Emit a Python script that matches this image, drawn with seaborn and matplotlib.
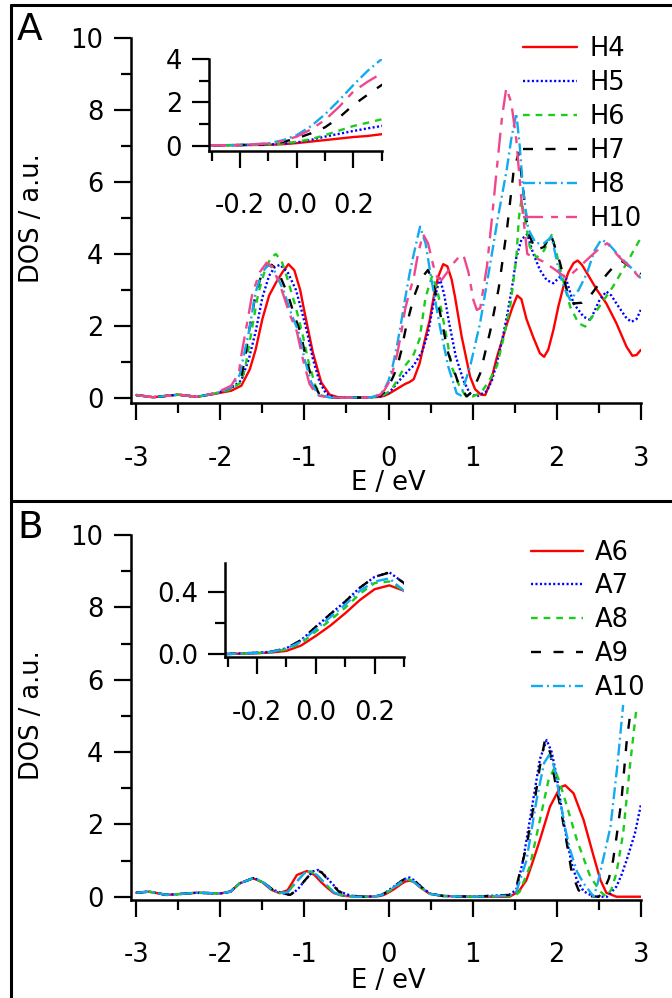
import matplotlib
matplotlib.use("Agg")
import matplotlib.pyplot as plt
import seaborn as sns
import pandas as pd
from matplotlib.lines import Line2D
from matplotlib.ticker import FixedLocator, FormatStrFormatter

# ---- panel A: DOS of the H-series (E / eV, DOS / a.u.) ----
h4 = [(-3.0, 0.09), (-2.8, 0.03), (-2.5, 0.10), (-2.28, 0.04), (-2.05, 0.13), (-1.87, 0.21),
      (-1.75, 0.35), (-1.65, 0.8), (-1.58, 1.35), (-1.5, 2.2), (-1.42, 2.85), (-1.34, 3.2),
      (-1.26, 3.5), (-1.19, 3.72), (-1.12, 3.55), (-1.05, 3.0), (-1.0, 2.4), (-0.9, 1.27),
      (-0.8, 0.44), (-0.7, 0.1), (-0.6, 0.03), (-0.4, 0.02), (-0.3, 0.02), (-0.2, 0.03),
      (-0.1, 0.04), (-0.05, 0.07), (0.0, 0.12), (0.05, 0.19), (0.1, 0.26), (0.15, 0.33),
      (0.2, 0.40), (0.25, 0.45), (0.3, 0.53), (0.37, 0.97), (0.43, 1.6), (0.49, 2.17),
      (0.54, 2.85), (0.59, 3.37), (0.65, 3.72), (0.70, 3.66), (0.75, 3.3), (0.79, 2.82),
      (0.87, 1.71), (0.97, 0.6), (1.03, 0.25), (1.1, 0.1), (1.15, 0.09), (1.22, 0.5),
      (1.29, 1.15), (1.35, 1.6), (1.41, 2.08), (1.47, 2.5), (1.53, 2.85), (1.58, 2.75),
      (1.64, 2.2), (1.72, 1.7), (1.80, 1.25), (1.85, 1.15), (1.9, 1.35), (1.96, 1.89),
      (2.02, 2.55), (2.08, 3.1), (2.14, 3.5), (2.2, 3.75), (2.25, 3.82), (2.3, 3.7),
      (2.36, 3.47), (2.48, 3.0), (2.59, 2.63), (2.71, 2.08), (2.83, 1.43), (2.9, 1.18),
      (2.95, 1.2), (3.0, 1.34)]
h5 = [(-3.0, 0.09), (-2.8, 0.03), (-2.5, 0.10), (-2.28, 0.04), (-2.05, 0.14), (-1.87, 0.28),
      (-1.75, 0.5), (-1.66, 1.1), (-1.58, 1.85), (-1.5, 2.8), (-1.42, 3.4), (-1.35, 3.65),
      (-1.29, 3.7), (-1.2, 3.5), (-1.1, 3.0), (-1.03, 2.4), (-0.97, 1.85), (-0.9, 1.1),
      (-0.82, 0.45), (-0.74, 0.12), (-0.65, 0.03), (-0.4, 0.02), (-0.3, 0.02), (-0.2, 0.03),
      (-0.1, 0.05), (-0.05, 0.09), (0.0, 0.15), (0.05, 0.27), (0.1, 0.42), (0.15, 0.55),
      (0.2, 0.68), (0.25, 0.8), (0.3, 0.91), (0.4, 1.3), (0.47, 1.8), (0.54, 2.7),
      (0.61, 3.33), (0.66, 2.9), (0.72, 2.1), (0.80, 1.16), (0.89, 0.5), (0.97, 0.12),
      (1.05, 0.05), (1.17, 0.2), (1.23, 0.5), (1.29, 1.0), (1.35, 1.6), (1.41, 2.3),
      (1.47, 3.1), (1.52, 3.9), (1.58, 4.4), (1.65, 4.55), (1.72, 4.02), (1.80, 3.56),
      (1.88, 3.28), (1.96, 3.19), (2.04, 3.37), (2.1, 3.4), (2.2, 2.63), (2.32, 2.26),
      (2.40, 2.17), (2.51, 2.73), (2.59, 2.96), (2.65, 2.85), (2.71, 2.63), (2.83, 2.22),
      (2.89, 2.12), (2.95, 2.2), (3.0, 2.45)]
h6 = [(-3.0, 0.09), (-2.8, 0.03), (-2.5, 0.10), (-2.28, 0.04), (-2.05, 0.14), (-1.87, 0.25),
      (-1.75, 0.45), (-1.7, 0.9), (-1.63, 1.85), (-1.55, 2.9), (-1.47, 3.55), (-1.4, 3.9),
      (-1.34, 4.0), (-1.27, 3.8), (-1.2, 3.3), (-1.1, 2.5), (-1.03, 1.85), (-0.95, 1.0),
      (-0.87, 0.35), (-0.8, 0.08), (-0.7, 0.02), (-0.4, 0.02), (-0.3, 0.02), (-0.2, 0.03),
      (-0.1, 0.05), (-0.05, 0.1), (0.0, 0.18), (0.05, 0.3), (0.1, 0.49), (0.15, 0.7),
      (0.2, 0.91), (0.25, 1.06), (0.3, 1.22), (0.37, 1.65), (0.44, 2.8), (0.52, 3.4),
      (0.58, 3.0), (0.64, 2.3), (0.69, 1.7), (0.75, 0.88), (0.85, 0.3), (0.92, 0.06),
      (1.0, 0.05), (1.1, 0.15), (1.2, 0.5), (1.29, 0.9), (1.37, 1.7), (1.45, 2.6),
      (1.52, 3.9), (1.55, 5.0), (1.58, 5.5), (1.62, 5.0), (1.68, 4.2), (1.76, 3.9),
      (1.85, 4.1), (1.94, 4.53), (2.0, 4.0), (2.05, 3.5), (2.16, 2.54), (2.26, 2.08),
      (2.34, 1.99), (2.48, 2.45), (2.67, 3.1), (2.83, 3.74), (3.0, 4.45)]
h7 = [(-3.0, 0.09), (-2.8, 0.03), (-2.5, 0.10), (-2.28, 0.04), (-2.05, 0.14), (-1.87, 0.3),
      (-1.75, 0.6), (-1.7, 1.2), (-1.66, 1.85), (-1.58, 2.9), (-1.5, 3.5), (-1.44, 3.68),
      (-1.39, 3.7), (-1.32, 3.55), (-1.2, 2.9), (-1.12, 2.3), (-1.05, 1.85), (-0.98, 1.1),
      (-0.9, 0.45), (-0.82, 0.1), (-0.7, 0.02), (-0.4, 0.02), (-0.3, 0.02), (-0.2, 0.03),
      (-0.1, 0.08), (-0.05, 0.17), (0.0, 0.34), (0.05, 0.57), (0.1, 0.85), (0.15, 1.3),
      (0.2, 1.88), (0.25, 2.35), (0.3, 2.8), (0.38, 3.3), (0.47, 3.56), (0.53, 3.2),
      (0.61, 2.4), (0.71, 1.25), (0.83, 0.42), (0.93, 0.05), (1.0, 0.2), (1.09, 0.69),
      (1.21, 1.87), (1.31, 3.05), (1.41, 4.72), (1.49, 6.35), (1.55, 6.8), (1.6, 5.8),
      (1.66, 4.6), (1.75, 4.1), (1.85, 4.2), (1.93, 4.55), (2.04, 3.75), (2.12, 3.0),
      (2.2, 2.63), (2.3, 2.65), (2.4, 2.85), (2.48, 3.1), (2.6, 3.45), (2.71, 3.74),
      (2.78, 3.8), (2.87, 3.65), (3.0, 3.45)]
h8 = [(-3.0, 0.09), (-2.8, 0.03), (-2.5, 0.10), (-2.28, 0.04), (-2.05, 0.14), (-1.87, 0.3),
      (-1.77, 0.65), (-1.72, 1.2), (-1.66, 1.85), (-1.58, 2.95), (-1.5, 3.5), (-1.43, 3.7),
      (-1.37, 3.6), (-1.25, 3.0), (-1.15, 2.3), (-1.07, 1.85), (-1.0, 1.1), (-0.92, 0.45),
      (-0.84, 0.1), (-0.7, 0.02), (-0.4, 0.02), (-0.3, 0.02), (-0.2, 0.03), (-0.1, 0.11),
      (-0.05, 0.25), (0.0, 0.49), (0.05, 0.9), (0.1, 1.45), (0.15, 2.1), (0.2, 2.8),
      (0.25, 3.45), (0.3, 4.0), (0.375, 4.76), (0.44, 4.3), (0.51, 3.3), (0.61, 2.0),
      (0.71, 0.88), (0.81, 0.14), (0.86, 0.08), (0.97, 0.88), (1.09, 2.1), (1.2, 3.6),
      (1.3, 5.0), (1.405, 6.33), (1.46, 7.2), (1.52, 7.9), (1.56, 7.0), (1.6, 5.8),
      (1.66, 4.7), (1.75, 4.3), (1.85, 4.3), (1.94, 4.48), (2.02, 3.6), (2.08, 3.1),
      (2.16, 2.73), (2.26, 3.0), (2.36, 3.47), (2.45, 4.1), (2.53, 4.4), (2.61, 4.3),
      (2.75, 3.93), (2.91, 3.56), (3.0, 3.33)]
h10 = [(-3.0, 0.09), (-2.8, 0.03), (-2.5, 0.10), (-2.28, 0.04), (-2.05, 0.15), (-1.87, 0.35),
       (-1.78, 0.7), (-1.75, 1.2), (-1.70, 1.85), (-1.62, 2.9), (-1.53, 3.5), (-1.45, 3.76),
       (-1.38, 3.65), (-1.27, 3.0), (-1.17, 2.3), (-1.09, 1.85), (-1.02, 1.1), (-0.94, 0.4),
       (-0.85, 0.08), (-0.7, 0.02), (-0.4, 0.02), (-0.3, 0.02), (-0.2, 0.03), (-0.1, 0.1),
       (-0.05, 0.22), (0.0, 0.42), (0.05, 0.75), (0.1, 1.19), (0.15, 1.8), (0.2, 2.5),
       (0.25, 2.95), (0.3, 3.34), (0.35, 4.0), (0.41, 4.55), (0.47, 4.3), (0.53, 3.7),
       (0.58, 3.35), (0.63, 3.28), (0.7, 3.5), (0.77, 3.74), (0.83, 3.9), (0.89, 3.98),
       (0.95, 3.5), (1.01, 2.72), (1.05, 2.45), (1.09, 2.5), (1.17, 3.65), (1.23, 5.0),
       (1.29, 6.42), (1.35, 7.8), (1.40, 8.6), (1.46, 8.2), (1.52, 7.16), (1.58, 5.5),
       (1.65, 4.0), (1.72, 3.93), (1.84, 3.79), (1.96, 3.6), (2.12, 3.33), (2.25, 3.6),
       (2.4, 3.93), (2.53, 4.2), (2.6, 4.3), (2.75, 3.9), (2.91, 3.55), (3.0, 3.3)]

# ---- panel B: DOS of the A-series ----
a6 = [(-3.0, 0.11), (-2.85, 0.14), (-2.64, 0.05), (-2.45, 0.08), (-2.28, 0.11), (-2.0, 0.09),
      (-1.88, 0.14), (-1.77, 0.37), (-1.61, 0.51), (-1.5, 0.4), (-1.4, 0.2), (-1.3, 0.1),
      (-1.2, 0.18), (-1.09, 0.6), (-0.97, 0.71), (-0.88, 0.6), (-0.8, 0.4), (-0.73, 0.25),
      (-0.65, 0.1), (-0.55, 0.03), (-0.4, 0.0), (-0.3, 0.0), (-0.25, 0.003), (-0.2, 0.005),
      (-0.15, 0.01), (-0.1, 0.02), (-0.05, 0.055), (0.0, 0.117), (0.05, 0.185), (0.1, 0.264),
      (0.15, 0.35), (0.2, 0.42), (0.25, 0.445), (0.3, 0.41), (0.375, 0.26), (0.49, 0.08),
      (0.65, 0.02), (1.0, 0.0), (1.44, 0.0), (1.55, 0.15), (1.64, 0.46), (1.72, 1.0),
      (1.80, 1.57), (1.92, 2.49), (2.04, 3.02), (2.1, 3.08), (2.2, 2.86), (2.32, 2.12),
      (2.44, 1.11), (2.52, 0.46), (2.59, 0.11), (2.71, 0.0), (3.0, 0.0)]
a7 = [(-3.0, 0.11), (-2.85, 0.14), (-2.64, 0.05), (-2.45, 0.08), (-2.28, 0.11), (-2.0, 0.09),
      (-1.88, 0.14), (-1.77, 0.37), (-1.6, 0.52), (-1.48, 0.38), (-1.38, 0.2), (-1.27, 0.1),
      (-1.17, 0.05), (-1.08, 0.2), (-1.01, 0.41), (-0.9, 0.7), (-0.84, 0.74), (-0.78, 0.65),
      (-0.69, 0.41), (-0.58, 0.14), (-0.45, 0.03), (-0.3, 0.0), (-0.25, 0.004), (-0.2, 0.008),
      (-0.15, 0.015), (-0.1, 0.037), (-0.05, 0.09), (0.0, 0.175), (0.05, 0.26), (0.1, 0.34),
      (0.15, 0.43), (0.2, 0.5), (0.25, 0.53), (0.3, 0.46), (0.4, 0.25), (0.5, 0.08),
      (0.65, 0.02), (1.0, 0.0), (1.44, 0.05), (1.52, 0.2), (1.6, 1.0), (1.72, 2.67),
      (1.8, 3.8), (1.88, 4.33), (1.94, 4.0), (2.0, 3.32), (2.06, 2.4), (2.12, 1.57),
      (2.18, 0.9), (2.24, 0.46), (2.32, 0.15), (2.40, 0.05), (2.46, 0.0), (2.6, 0.0),
      (2.71, 0.28), (2.77, 0.6), (2.83, 1.0), (2.93, 1.75), (3.0, 2.53)]
a8 = [(-3.0, 0.11), (-2.85, 0.14), (-2.64, 0.05), (-2.45, 0.08), (-2.28, 0.11), (-2.0, 0.09),
      (-1.88, 0.14), (-1.77, 0.37), (-1.6, 0.52), (-1.48, 0.38), (-1.38, 0.18), (-1.3, 0.1),
      (-1.2, 0.12), (-1.1, 0.4), (-1.0, 0.65), (-0.93, 0.7), (-0.85, 0.6), (-0.75, 0.35),
      (-0.65, 0.12), (-0.55, 0.03), (-0.4, 0.0), (-0.3, 0.0), (-0.25, 0.003), (-0.2, 0.006),
      (-0.15, 0.012), (-0.1, 0.03), (-0.05, 0.07), (0.0, 0.145), (0.05, 0.22), (0.1, 0.30),
      (0.15, 0.39), (0.2, 0.46), (0.25, 0.47), (0.3, 0.41), (0.375, 0.27), (0.49, 0.08),
      (0.65, 0.02), (1.0, 0.0), (1.5, 0.02), (1.56, 0.14), (1.68, 0.83), (1.80, 2.12),
      (1.9, 3.2), (1.97, 3.55), (2.03, 3.2), (2.10, 2.67), (2.24, 1.57), (2.40, 0.55),
      (2.52, 0.14), (2.59, 0.0), (2.65, 0.2), (2.71, 0.65), (2.79, 1.75), (2.87, 3.6),
      (2.95, 5.25)]
a9 = [(-3.0, 0.11), (-2.85, 0.14), (-2.64, 0.05), (-2.45, 0.08), (-2.28, 0.11), (-2.0, 0.09),
      (-1.88, 0.14), (-1.77, 0.37), (-1.6, 0.52), (-1.48, 0.38), (-1.38, 0.2), (-1.27, 0.1),
      (-1.17, 0.05), (-1.08, 0.2), (-1.01, 0.41), (-0.91, 0.68), (-0.85, 0.74), (-0.79, 0.66),
      (-0.7, 0.41), (-0.59, 0.14), (-0.45, 0.03), (-0.3, 0.0), (-0.25, 0.004), (-0.2, 0.008),
      (-0.15, 0.015), (-0.1, 0.037), (-0.05, 0.09), (0.0, 0.177), (0.05, 0.26), (0.1, 0.34),
      (0.15, 0.43), (0.2, 0.5), (0.25, 0.528), (0.3, 0.46), (0.4, 0.25), (0.5, 0.08),
      (0.65, 0.02), (1.0, 0.0), (1.44, 0.05), (1.52, 0.28), (1.64, 1.38), (1.74, 2.67),
      (1.8, 3.6), (1.86, 4.33), (1.92, 4.0), (1.98, 3.2), (2.05, 2.4), (2.12, 1.48),
      (2.18, 0.65), (2.26, 0.18), (2.36, 0.02), (2.5, 0.0), (2.56, 0.18), (2.62, 0.5),
      (2.67, 1.0), (2.72, 1.8), (2.77, 2.67), (2.83, 4.24), (2.88, 5.16)]
a10 = [(-3.0, 0.11), (-2.85, 0.14), (-2.64, 0.05), (-2.45, 0.08), (-2.28, 0.11), (-2.0, 0.09),
       (-1.88, 0.14), (-1.77, 0.37), (-1.6, 0.52), (-1.48, 0.38), (-1.38, 0.18), (-1.3, 0.1),
       (-1.2, 0.12), (-1.1, 0.4), (-1.0, 0.65), (-0.93, 0.7), (-0.85, 0.6), (-0.75, 0.35),
       (-0.65, 0.12), (-0.55, 0.03), (-0.4, 0.0), (-0.3, 0.0), (-0.25, 0.003), (-0.2, 0.007),
       (-0.15, 0.014), (-0.1, 0.035), (-0.05, 0.08), (0.0, 0.16), (0.05, 0.24), (0.1, 0.32),
       (0.15, 0.41), (0.2, 0.47), (0.25, 0.49), (0.3, 0.41), (0.375, 0.27), (0.49, 0.08),
       (0.65, 0.02), (1.0, 0.0), (1.44, 0.03), (1.52, 0.14), (1.64, 1.0), (1.76, 2.67),
       (1.85, 3.7), (1.92, 3.95), (1.98, 3.5), (2.04, 2.67), (2.10, 1.9), (2.16, 1.29),
       (2.24, 0.7), (2.32, 0.37), (2.44, 0.0), (2.49, 0.4), (2.56, 1.11), (2.64, 1.94),
       (2.72, 3.6), (2.79, 5.3)]

series_a = {"H4": h4, "H5": h5, "H6": h6, "H7": h7, "H8": h8, "H10": h10}
series_b = {"A6": a6, "A7": a7, "A8": a8, "A9": a9, "A10": a10}

colors = {"H4": "#ff0000", "H5": "#0000ff", "H6": "#1ccc1c", "H7": "#000000",
          "H8": "#12aaf0", "H10": "#f0478c",
          "A6": "#ff0000", "A7": "#0000ff", "A8": "#1ccc1c", "A9": "#000000", "A10": "#12aaf0"}
# dash patterns in points (scale_dashes off)
dash_styles = {"H4": "", "H5": (1.5, 1.7), "H6": (4.8, 4.3), "H7": (7.2, 9.0),
               "H8": (8.6, 2.9, 1.4, 2.9), "H10": (14.4, 5.8, 5.0, 5.8),
               "A6": "", "A7": (1.5, 1.7), "A8": (4.8, 4.3), "A9": (7.2, 9.0),
               "A10": (8.6, 2.9, 1.4, 2.9)}


def to_frame(series):
    rows = []
    for name, pts in series.items():
        for e, d in pts:
            rows.append({"E": e, "DOS": d, "series": name})
    return pd.DataFrame(rows)


df_a = to_frame(series_a)
df_b = to_frame(series_b)

sns.set_style("ticks")
plt.rcParams["font.family"] = ["DejaVu Sans"]
plt.rcParams["axes.unicode_minus"] = False
plt.rcParams["lines.scale_dashes"] = False
for key in ["text.color", "axes.labelcolor", "xtick.color", "ytick.color",
            "xtick.labelcolor", "ytick.labelcolor", "axes.edgecolor"]:
    plt.rcParams[key] = "black"

FS = 18.5
W, H = 672.0, 998.0


def rect(l, t, r, b):
    return [l / W, 1 - b / H, (r - l) / W, (b - t) / H]


def style_axes(ax):
    ax.set_facecolor("none")
    for s in ["top", "right"]:
        ax.spines[s].set_visible(False)
    for s in ["left", "bottom"]:
        ax.spines[s].set_linewidth(1.8)
        ax.spines[s].set_color("black")
    ax.tick_params(which="major", direction="out", length=12.5, width=1.6,
                   labelsize=FS, color="black", labelcolor="black")
    ax.tick_params(which="minor", direction="out", length=7, width=1.6, color="black")
    ax.tick_params(axis="y", which="both", pad=7)
    ax.tick_params(axis="x", which="both", pad=18)
    ax.set_xlabel("")
    ax.set_ylabel("")


def draw(ax, df, order, legend=False):
    sns.lineplot(data=df, x="E", y="DOS", hue="series", style="series",
                 hue_order=order, style_order=order,
                 palette=colors, dashes=dash_styles, estimator=None, sort=False,
                 linewidth=1.7, legend=legend, ax=ax)


fig = plt.figure(figsize=(W / 100, H / 100), dpi=100)

panels = [
    dict(main=rect(130.7, 37.7, 640.8, 403.3), mylim=(-0.139, 10),
         ins=rect(209.3, 59.0, 381.7, 150.7), iylim=(-0.23, 4.0),
         iy_major=[0, 2, 4], iy_minor=[1, 3], iy_fmt="%d",
         df=df_a, order=list(series_a), letter="A", dy=0.0,
         leg_left=523, leg_top=36.0, hlen=2.11),
    dict(main=rect(130.7, 535.0, 640.8, 900.0), mylim=(-0.091, 10),
         ins=rect(225.0, 562.7, 404.0, 657.3), iylim=(-0.0214, 0.592),
         iy_major=[0.0, 0.4], iy_minor=[0.2], iy_fmt="%.1f",
         df=df_b, order=list(series_b), letter="B", dy=497.5,
         leg_left=530.6, leg_top=539.5, hlen=2.04),
]

for p in panels:
    ax = fig.add_axes(p["main"])
    draw(ax, p["df"], p["order"], legend=True)
    ax.set_xlim(-3.066, 3.0)
    ax.set_ylim(*p["mylim"])
    ax.xaxis.set_major_locator(FixedLocator([-3, -2, -1, 0, 1, 2, 3]))
    ax.xaxis.set_minor_locator(FixedLocator([-2.5, -1.5, -0.5, 0.5, 1.5, 2.5]))
    ax.yaxis.set_major_locator(FixedLocator([0, 2, 4, 6, 8, 10]))
    ax.yaxis.set_minor_locator(FixedLocator([1, 3, 5, 7, 9]))
    ax.xaxis.set_major_formatter(FormatStrFormatter("%d"))
    ax.yaxis.set_major_formatter(FormatStrFormatter("%d"))
    style_axes(ax)

    old = ax.get_legend()
    handles = list(old.legend_handles)
    labels = [t.get_text() for t in old.get_texts()]
    old.remove()
    for h in handles:
        h.set_linewidth(1.7)
    leg = ax.legend(handles, labels, loc="upper left",
                    bbox_to_anchor=(p["leg_left"] / W, 1 - p["leg_top"] / H),
                    bbox_transform=fig.transFigure, frameon=False, borderpad=0,
                    borderaxespad=0, handlelength=p["hlen"], handletextpad=0.47,
                    labelspacing=0.31, fontsize=FS)
    for t in leg.get_texts():
        t.set_color("black")

    ins = fig.add_axes(p["ins"])
    draw(ins, p["df"], p["order"], legend=False)
    ins.set_xlim(-0.3088, 0.3)
    ins.set_ylim(*p["iylim"])
    ins.xaxis.set_major_locator(FixedLocator([-0.2, 0.0, 0.2]))
    ins.xaxis.set_minor_locator(FixedLocator([-0.3, -0.1, 0.1, 0.3]))
    ins.yaxis.set_major_locator(FixedLocator(p["iy_major"]))
    ins.yaxis.set_minor_locator(FixedLocator(p["iy_minor"]))
    ins.xaxis.set_major_formatter(FormatStrFormatter("%.1f"))
    ins.yaxis.set_major_formatter(FormatStrFormatter(p["iy_fmt"]))
    style_axes(ins)

    dy = p["dy"]
    fig.text(17 / W, 1 - (12 + dy) / H, p["letter"], ha="left", va="top",
             fontsize=27, color="black")
    fig.text(32 / W, 1 - (218 + dy) / H, "DOS / a.u.", rotation=90,
             ha="center", va="center", fontsize=FS, color="black")
    fig.text(388 / W, 1 - (483 + dy) / H, "E / eV", ha="center", va="center",
             fontsize=FS, color="black")

# panel frame lines
frame_kw = dict(color="black", linewidth=2.2, transform=fig.transFigure)
fig.add_artist(Line2D([10.7 / W, 1.0], [1 - 5 / H, 1 - 5 / H], **frame_kw))
fig.add_artist(Line2D([10.7 / W, 10.7 / W], [0.0, 1 - 5 / H], **frame_kw))
fig.add_artist(Line2D([10.7 / W, 1.0], [1 - 500.5 / H, 1 - 500.5 / H], **frame_kw))

fig.savefig("out.png", dpi=100)
